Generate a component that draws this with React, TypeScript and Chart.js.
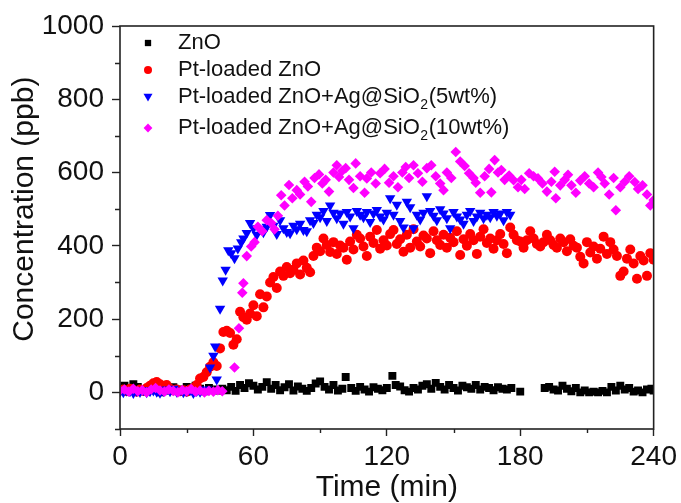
import React, { useEffect, useRef } from 'react';
import { Chart, registerables } from 'chart.js';

Chart.register(...registerables);

const FONT = "'Liberation Sans', Arial, sans-serif";
const AXIS_COLOR = '#222222';

// Axis ticks
const xMajorTicks = [0, 60, 120, 180, 240];
const xMinorTicks = [30, 90, 150, 210];
const yMajorTicks = [0, 200, 400, 600, 800, 1000];
const yMinorTicks = [-100, 100, 300, 500, 700, 900];

// Series labels: [main text, subscript, tail]
const legendParts: [string, string, string][] = [
  ['ZnO', '', ''],
  ['Pt-loaded ZnO', '', ''],
  ['Pt-loaded ZnO+Ag@SiO', '2', '(5wt%)'],
  ['Pt-loaded ZnO+Ag@SiO', '2', '(10wt%)'],
];
const seriesColors = ['#000000', '#ff0000', '#0000ff', '#ff00ff'];

// [time (min), concentration (ppb)]
const zno: [number, number][] = [
  [0,10],[2,18],[4,5],[6,22],[8,15],[10,8],[12,3],[14,12],[16,6],[18,0],[20,10],[22,5],[24,14],[26,8],[28,2],[30,15],
  [32,6],[34,18],[36,10],[38,3],[40,12],[42,8],[44,5],[46,10],[48,6],[50,15],[52,4],[54,20],[56,12],[58,25],[60,18],
  [62,8],[64,15],[66,28],[68,10],[70,20],[72,6],[74,14],[76,22],[78,5],[80,16],[82,10],[84,4],[86,12],[88,24],[90,30],
  [92,15],[94,8],[96,20],[98,5],[100,10],[101.5,42],[104,12],[106,4],[108,15],[110,8],[112,2],[114,14],[116,10],[118,6],
  [120,12],[122.5,45],[124,20],[126,16],[128,6],[130,2],[132,12],[134,8],[136,18],[138,22],[140,10],[142,26],[144,15],
  [146,8],[148,20],[150,12],[152,5],[154,18],[156,14],[158,10],[160,20],[162,8],[164,15],[166,12],[168,6],[170,14],
  [172,10],[174,8],[176,12],[180,2],[191,12],[193,15],[195,8],[197,5],[199,18],[201,10],[203,3],[205,12],[207,0],
  [209,5],[211,0],[213,2],[215,0],[217,4],[219,0],[221,15],[223,5],[225,18],[227,8],[229,12],[231,2],[233,5],[235,0],
  [237,8],[239,10],[240,5],
];

const ptZno: [number, number][] = [
  [0,5],[1.5,8],[3,3],[4.5,10],[6,6],[7.5,2],[9,8],[10.5,4],[12,12],[13.5,18],[15,25],[16.5,28],[18,22],[19.5,15],
  [21,20],[22.5,10],[24,5],[25.5,8],[27,3],[28.5,6],[30,2],[31.5,8],[33,12],[34.5,20],[36,38],[37.5,42],[39,55],
  [40.5,70],[42,82],[43.5,72],[45,120],[46.5,165],[48,168],[49.5,162],[51,130],[52.5,145],[54,220],[55.5,205],
  [57,198],[58.5,215],[60,238],[61.5,208],[63,268],[64.5,232],[66,262],[67.5,300],[69,315],[70.5,285],[72,330],
  [73.5,318],[75,342],[76.5,325],[78,335],[79.5,352],[81,322],[82.5,360],[84,340],[85.5,328],[87,372],[88.5,395],
  [90,385],[91.5,420],[93,402],[94.5,383],[96,410],[97.5,378],[99,401],[100.5,395],[102,362],[103.5,412],[105,390],
  [106.5,430],[108,420],[109.5,398],[111,372],[112.5,425],[114,408],[115.5,443],[117,392],[118.5,415],[120,401],
  [121.5,432],[123,443],[124.5,405],[126,418],[127.5,384],[129,430],[130.5,395],[132,445],[133.5,412],[135,398],
  [136.5,428],[138,420],[139.5,380],[141,440],[142.5,415],[144,402],[145.5,430],[147,395],[148.5,422],[150,410],
  [151.5,440],[153,375],[154.5,418],[156,400],[157.5,432],[159,415],[160.5,378],[162,425],[163.5,445],[165,408],
  [166.5,420],[168,392],[169.5,415],[171,432],[172.5,405],[174,380],[175.5,450],[177,430],[178.5,415],[180,412],
  [181.5,395],[183,415],[184.5,440],[186,420],[187.5,405],[189,398],[190.5,410],[192,430],[193.5,415],[195,402],
  [196.5,395],[198,420],[199.5,410],[201,385],[202.5,418],[204,400],[205.5,395],[207,370],[208.5,352],[210,410],
  [211.5,382],[213,398],[214.5,365],[216,392],[217.5,425],[219,378],[220.5,410],[222,390],[223.5,372],[225,318],
  [226.5,330],[228,365],[229.5,390],[231,352],[232.5,310],[234,372],[235.5,360],[237,318],[238.5,380],[240,362],
];

const ptZnoAg5: [number, number][] = [
  [0,2],[1.5,0],[3,5],[4.5,3],[6,-2],[7.5,4],[9,1],[10.5,6],[12,0],[13.5,3],[15,5],[16.5,2],[18,-1],[19.5,4],[21,8],
  [22.5,3],[24,10],[25.5,2],[27,5],[28.5,0],[30,3],[31.5,6],[33,-2],[34.5,4],[36,2],[37.5,5],[39,8],[40.5,68],
  [42,100],[42.8,125],[43.5,35],[45,228],[46.2,305],[47.5,335],[48.7,388],[50,380],[51.5,366],[53,393],[54.5,410],
  [55.5,420],[57,435],[58.5,462],[60,448],[61.5,430],[63,445],[64.5,437],[66,452],[67.5,484],[69,455],[70.5,432],
  [72,470],[73.5,448],[75,438],[76.5,434],[78,455],[79.5,445],[81,460],[82.5,443],[84,440],[85.5,470],[87,462],
  [88.5,485],[90,478],[91.5,495],[93,468],[94.5,510],[96,490],[97.5,475],[99,488],[100.5,460],[102,492],[103.5,480],
  [105,448],[106.5,495],[108,485],[109.5,478],[111,492],[112.5,465],[114,488],[115.5,498],[117,480],[118.5,472],
  [120,490],[121.5,530],[123,485],[124.5,512],[126,468],[127.5,450],[129,520],[130.5,505],[132,448],[133.5,485],
  [135,472],[136.5,490],[138,535],[139.5,495],[141,482],[142.5,470],[144,500],[145.5,488],[147,475],[148.5,448],
  [150,492],[151.5,480],[153,472],[154.5,460],[156,485],[157.5,495],[159,468],[160.5,480],[162,490],[163.5,475],
  [165,485],[166.5,478],[168,492],[169.5,482],[171,488],[172.5,470],[174,492],[175.5,485],
];

const ptZnoAg10: [number, number][] = [
  [0,5],[2,8],[4,2],[6,10],[8,3],[10,6],[12,0],[14,8],[16,12],[18,5],[20,2],[22,8],[24,4],[26,0],[28,6],[30,3],
  [32,9],[34,2],[36,5],[38,0],[40,4],[42,2],[44,6],[46,3],[51.5,68],[53.5,175],[55,272],[55.5,298],[57,372],[59,398],
  [60.5,410],[62,452],[64,440],[66,470],[68,462],[69.5,445],[71,482],[72.5,538],[74,510],[76,566],[77.5,530],
  [79.5,552],[81,540],[83,575],[84.5,562],[86,520],[87.5,585],[89.5,595],[91,570],[92.5,580],[94,548],[96,600],
  [97.5,620],[98.5,588],[100,605],[101.5,612],[103,580],[105,558],[106,625],[108,590],[110,545],[111,584],[113,600],
  [115,570],[117,598],[119,610],[121,572],[123,590],[125,560],[127,600],[128.5,615],[130,585],[132,620],[134,598],
  [136,575],[138,612],[140,620],[142,590],[144,570],[145.5,552],[147,600],[149,585],[151,656],[153,630],[155,618],
  [157,598],[159,585],[160,572],[162,545],[164,590],[166,610],[167,546],[168.5,634],[170,600],[171.5,607],[173,580],
  [175,592],[177,579],[179,560],[180.5,580],[182,555],[184,598],[186,590],[188,584],[190,570],[192,548],[194,575],
  [195.5,602],[196,530],[198,565],[200,580],[201.5,594],[203,565],[205,545],[207,578],[209,590],[211,570],[213,560],
  [215,600],[216.5,588],[218,570],[220,540],[222,585],[223,497],[225,560],[227,575],[229,590],[231.5,574],[233,555],
  [235,565],[237,540],[238.5,510],[240,525],
];

const toXY = (arr: [number, number][]) => arr.map(([x, y]) => ({ x, y }));

function drawMarker(ctx: CanvasRenderingContext2D, kind: number, x: number, y: number, s: number) {
  ctx.beginPath();
  if (kind === 0) {
    ctx.rect(x - s * 0.45, y - s * 0.45, s * 0.9, s * 0.9);
  } else if (kind === 1) {
    ctx.arc(x, y, s * 0.5, 0, Math.PI * 2);
  } else if (kind === 2) {
    ctx.moveTo(x - s * 0.5, y - s * 0.35);
    ctx.lineTo(x + s * 0.5, y - s * 0.35);
    ctx.lineTo(x, y + s * 0.5);
    ctx.closePath();
  } else {
    ctx.moveTo(x, y - s * 0.55);
    ctx.lineTo(x + s * 0.55, y);
    ctx.lineTo(x, y + s * 0.55);
    ctx.lineTo(x - s * 0.55, y);
    ctx.closePath();
  }
  ctx.fill();
}

const decorPlugin = {
  id: 'decor',
  afterDatasetsDraw(chart: any) {
    const { ctx, chartArea: a, scales } = chart;
    ctx.save();
    ctx.strokeStyle = AXIS_COLOR;
    ctx.lineWidth = 1.6;
    ctx.strokeRect(a.left, a.top, a.right - a.left, a.bottom - a.top);
    ctx.lineWidth = 1.4;
    ctx.beginPath();
    for (const v of yMinorTicks) {
      const py = Math.round(scales.y.getPixelForValue(v)) + 0.5;
      ctx.moveTo(a.left - 5, py);
      ctx.lineTo(a.left, py);
    }
    for (const v of xMinorTicks) {
      const px = Math.round(scales.x.getPixelForValue(v)) + 0.5;
      ctx.moveTo(px, a.bottom);
      ctx.lineTo(px, a.bottom + 4);
    }
    ctx.stroke();
    ctx.restore();
  },
  afterDraw(chart: any) {
    const { ctx, chartArea: a, scales } = chart;
    ctx.save();
    // legend
    const rowOffsets = [17, 44, 71, 102];
    const markerSizes = [7, 8, 9, 8];
    legendParts.forEach((parts, i) => {
      const y = a.top + rowOffsets[i];
      ctx.fillStyle = seriesColors[i];
      drawMarker(ctx, i, a.left + 28, y, markerSizes[i]);
      ctx.fillStyle = '#111';
      ctx.textBaseline = 'middle';
      ctx.textAlign = 'left';
      ctx.font = `22px ${FONT}`;
      let x = a.left + 58;
      ctx.fillText(parts[0], x, y);
      x += ctx.measureText(parts[0]).width;
      if (parts[1]) {
        ctx.font = `14px ${FONT}`;
        ctx.fillText(parts[1], x + 0.5, y + 8);
        x += ctx.measureText(parts[1]).width + 1;
        ctx.font = `22px ${FONT}`;
      }
      if (parts[2]) ctx.fillText(parts[2], x, y);
    });
    // y axis title centred on the 0..1000 range
    const cy = (scales.y.getPixelForValue(yMajorTicks[0]) + scales.y.getPixelForValue(yMajorTicks[yMajorTicks.length - 1])) / 2;
    ctx.translate(25, cy);
    ctx.rotate(-Math.PI / 2);
    ctx.font = `30px ${FONT}`;
    ctx.fillStyle = '#111';
    ctx.textAlign = 'center';
    ctx.textBaseline = 'middle';
    ctx.fillText('Concentration (ppb)', 0, 0);
    ctx.restore();
  },
};

export default function App() {
  const ref = useRef<HTMLCanvasElement>(null);
  useEffect(() => {
    if (!ref.current) return;
    const mk = (label: string, data: [number, number][], i: number, style: any, radius: number) => ({
      label,
      data: toXY(data),
      pointStyle: style,
      pointRadius: radius,
      pointHoverRadius: radius,
      pointBackgroundColor: seriesColors[i],
      pointBorderWidth: 0,
      borderColor: seriesColors[i],
      backgroundColor: seriesColors[i],
      showLine: false,
      clip: 0,
      order: 4 - i,
    });
    const chart = new Chart(ref.current, {
      type: 'scatter',
      data: {
        datasets: [
          mk('ZnO', zno, 0, 'rect', 5.6),
          mk('Pt-loaded ZnO', ptZno, 1, 'circle', 5),
          { ...mk('Pt-loaded ZnO+Ag@SiO₂(5wt%)', ptZnoAg5, 2, 'triangle', 6), pointRotation: 180 },
          mk('Pt-loaded ZnO+Ag@SiO₂(10wt%)', ptZnoAg10, 3, 'rectRot', 5.3),
        ],
      },
      options: {
        animation: false,
        responsive: false,
        devicePixelRatio: 1,
        layout: { padding: { top: 26, right: 27, left: 0, bottom: 0 } },
        plugins: { legend: { display: false }, tooltip: { enabled: false } },
        events: [],
        scales: {
          x: {
            type: 'linear',
            min: 0,
            max: 240,
            afterBuildTicks: (s: any) => { s.ticks = xMajorTicks.map((v) => ({ value: v })); },
            afterFit: (s: any) => { s.height = 74; },
            border: { display: false },
            grid: { drawOnChartArea: false, drawTicks: true, tickLength: 7, tickWidth: 1.4, tickColor: AXIS_COLOR },
            ticks: { font: { family: FONT, size: 28 }, color: '#111', padding: 4, maxRotation: 0, autoSkip: false, callback: (v: any) => String(v) },
            title: { display: true, text: 'Time (min)', font: { family: FONT, size: 30 }, color: '#111', padding: { top: 0, bottom: -3 } },
          },
          y: {
            type: 'linear',
            min: -100,
            max: 1000,
            afterBuildTicks: (s: any) => { s.ticks = yMajorTicks.map((v) => ({ value: v })); },
            afterFit: (s: any) => { s.width = 120; },
            border: { display: false },
            grid: { drawOnChartArea: false, drawTicks: true, tickLength: 8, tickWidth: 1.4, tickColor: AXIS_COLOR },
            ticks: { font: { family: FONT, size: 28 }, color: '#111', padding: 8, autoSkip: false, callback: (v: any) => String(v) },
          },
        },
      },
      plugins: [decorPlugin],
    } as any);
    return () => chart.destroy();
  }, []);
  return (
    <div style={{ position: 'fixed', left: 0, top: 0, width: 681, height: 503, background: '#fff' }}>
      <canvas ref={ref} width={681} height={503} style={{ display: 'block' }} />
    </div>
  );
}
